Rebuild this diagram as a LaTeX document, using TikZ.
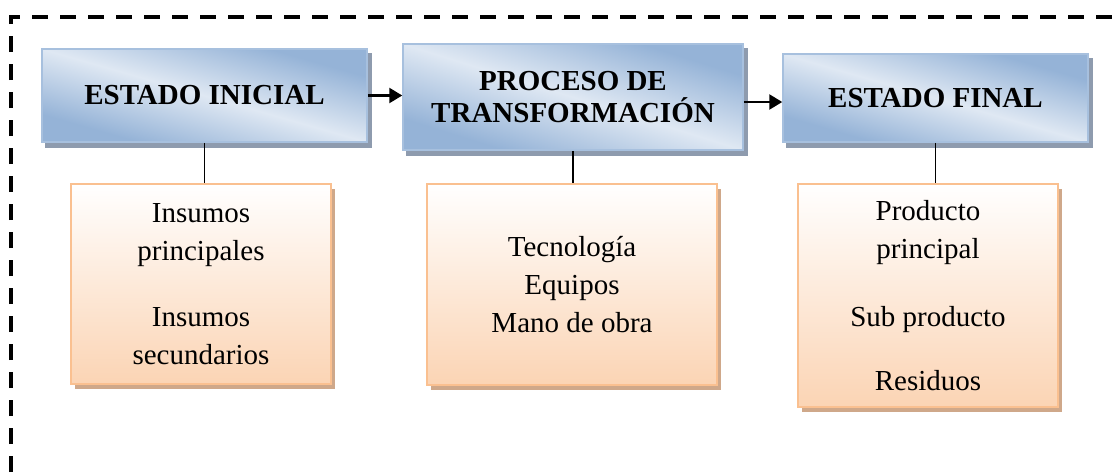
\documentclass[tikz,border=0pt]{standalone}
\usepackage{fontspec}
\setmainfont{Liberation Serif}
\usetikzlibrary{shadows,arrows.meta}
\definecolor{bdark}{HTML}{95B3D7}
\definecolor{blight}{HTML}{DFE8F3}
\definecolor{bborder}{HTML}{A7C0DE}
\definecolor{bshadow}{HTML}{8E9BAE}
\definecolor{pbot}{HTML}{FBD4B4}
\definecolor{pborder}{HTML}{FAC090}
\definecolor{pshadow}{HTML}{CFA88A}
\pgfdeclarelayer{background}
\pgfsetlayers{background,main}
\newcommand\hdrfill[3]{%
  \fill[bshadow] ([shift={(4pt,-5pt)}]#1.south west) rectangle ([shift={(4pt,-5pt)}]#1.north east);
  \shade[left color=bdark, right color=bdark, middle color=blight, shading angle=135,
    transform canvas={shift={(#1.center)}, xscale=#2/#3}]
    (-#3/2,-#3/2) rectangle (#3/2,#3/2);
}
\begin{document}
\begin{tikzpicture}[x=1pt,y=-1pt,
  hdr/.style={rectangle, draw=bborder, line width=1.5pt,
    font=\bfseries\fontsize{29}{32}\selectfont, align=center, inner sep=0pt},
  low/.style={rectangle, draw=pborder, line width=1.5pt,
    top color=white, bottom color=pbot,
    drop shadow={shadow xshift=4pt, shadow yshift=-5pt, fill=pshadow, opacity=1},
    font=\fontsize{29}{38}\selectfont, align=center, inner sep=0pt},
  conn/.style={line width=1.5pt},
  flow/.style={line width=2.5pt, -{Triangle[length=13pt,width=15pt]}},
  frame/.style={line width=3.5pt, dash pattern=on 16pt off 12pt}
]
\useasboundingbox (0,0) rectangle (1117,472);
\draw[frame] (11,472) -- (11,17) -- (1117,17);

\node[hdr, minimum width=325pt, minimum height=93pt] (b1) at (204.5,95.5) {ESTADO INICIAL};
\node[hdr, minimum width=340pt, minimum height=106pt] (b2) at (573,97) {PROCESO DE\\TRANSFORMACIÓN};
\node[hdr, minimum width=305pt, minimum height=88pt] (b3) at (935.5,98) {ESTADO FINAL};
\begin{pgfonlayer}{background}
  \hdrfill{b1}{325}{93}
  \hdrfill{b2}{340}{106}
  \hdrfill{b3}{305}{88}
\end{pgfonlayer}

\node[low, minimum width=260pt, minimum height=200pt] (l1) at (201,284)
  {Insumos\\principales\\[28pt]Insumos\\secundarios};
\node[low, minimum width=290pt, minimum height=201pt] (l2) at (572,284.5)
  {\fontsize{29}{35}\selectfont Tecnología\\Equipos\\Mano de obra};
\node[low, minimum width=260pt, minimum height=223pt] (l3) at (928,295.5)
  {\fontsize{29}{37}\selectfont Producto\\principal\\[30pt]Sub producto\\[26pt]Residuos};

\draw[flow] (b1.east) -- (b1.east -| b2.west);
\draw[flow] ([yshift=-5pt]b2.east) -- ([yshift=-5pt]b2.east -| b3.west);
\draw[conn] (b1.south) -- (b1.south |- l1.north);
\draw[conn] (b2.south) -- (b2.south |- l2.north);
\draw[conn] (b3.south) -- (b3.south |- l3.north);
\end{tikzpicture}
\end{document}
